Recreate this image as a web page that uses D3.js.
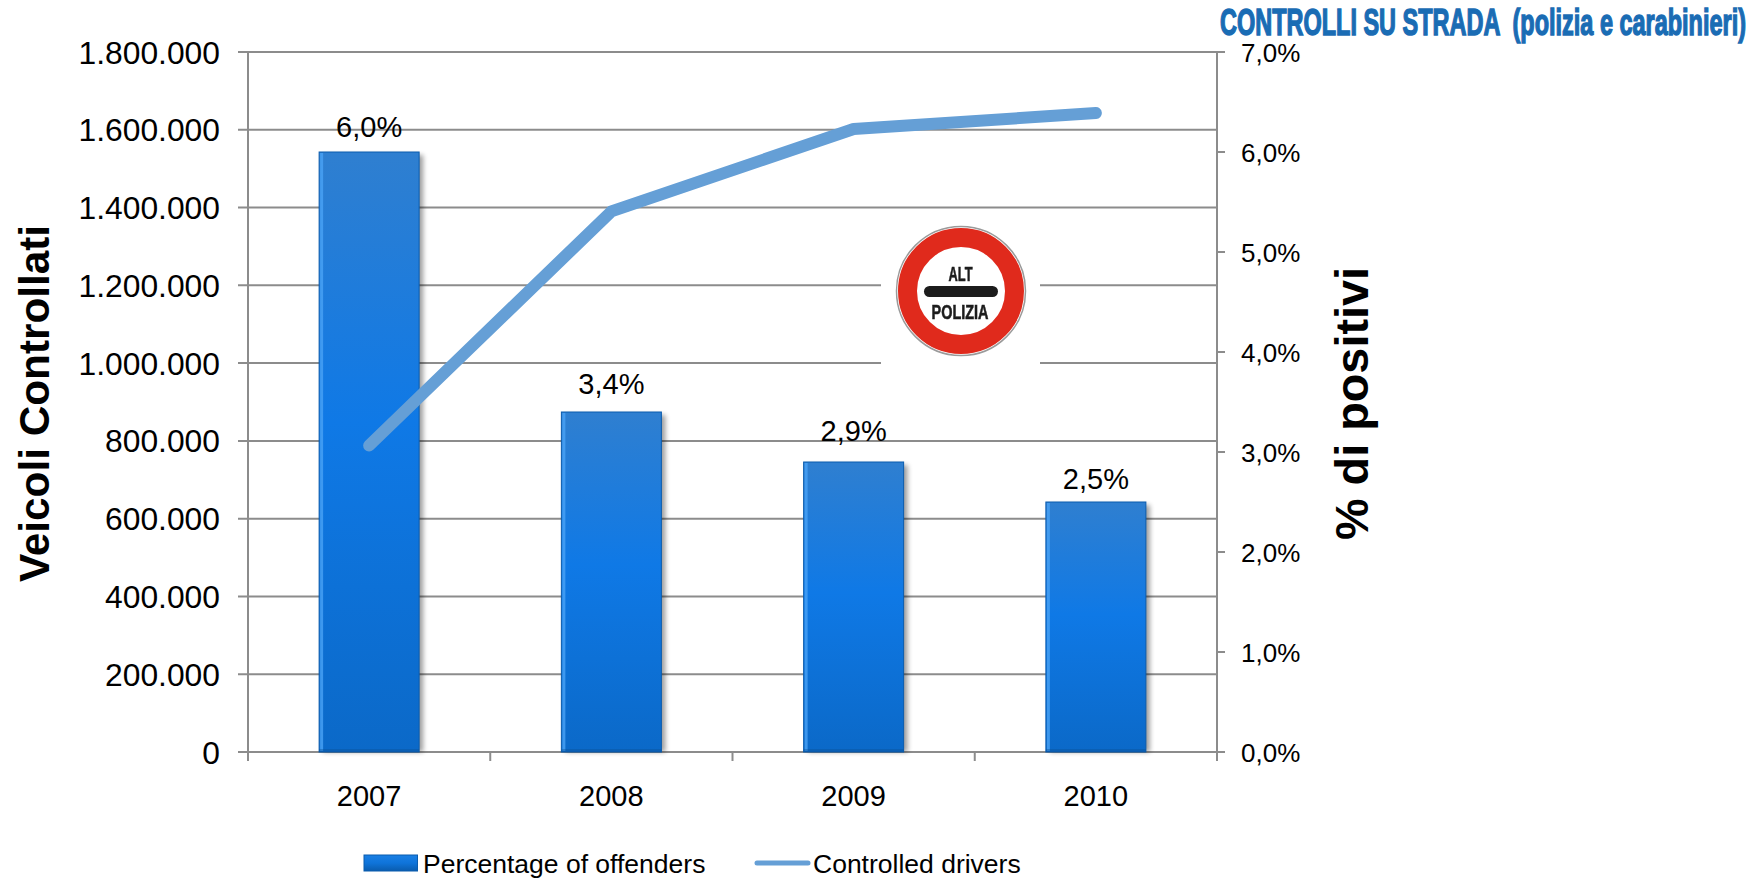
<!DOCTYPE html>
<html>
<head>
<meta charset="utf-8">
<script src="https://cdn.jsdelivr.net/npm/d3@7"></script>
<style>
  html, body { margin: 0; padding: 0; background: #fff; }
  svg { display: block; }
  text { font-family: "Liberation Sans", Arial, sans-serif; fill: #000; }
</style>
</head>
<body>
<svg id="chart" width="1760" height="879"></svg>
<script>
// Roadside checks in Italy: drivers checked (line) and share of offenders (bars)
const years = ["2007", "2008", "2009", "2010"];
const offenderPct = [6.0, 3.4, 2.9, 2.5];
const controlledDrivers = [788000, 1390000, 1602000, 1643000];
const leftTicks = [0, 200000, 400000, 600000, 800000, 1000000, 1200000, 1400000, 1600000, 1800000];
const rightTicks = [0, 1, 2, 3, 4, 5, 6, 7];

const plot = { left: 248, right: 1217, top: 52, bottom: 752 };
const axisGrey = "#8c8c8c";
const lineBlue = "#659fd6";

const svg = d3.select("#chart");
const defs = svg.append("defs");

const barFill = defs.append("linearGradient").attr("id", "barFill")
  .attr("x1", 0).attr("y1", 0).attr("x2", 0).attr("y2", 1);
barFill.append("stop").attr("offset", "0%").attr("stop-color", "#2f7fd0");
barFill.append("stop").attr("offset", "45%").attr("stop-color", "#0f79e6");
barFill.append("stop").attr("offset", "100%").attr("stop-color", "#0b69c8");

const legendFill = defs.append("linearGradient").attr("id", "legendFill")
  .attr("x1", 0).attr("y1", 0).attr("x2", 0).attr("y2", 1);
legendFill.append("stop").attr("offset", "0%").attr("stop-color", "#1a80e4");
legendFill.append("stop").attr("offset", "50%").attr("stop-color", "#0f74da");
legendFill.append("stop").attr("offset", "100%").attr("stop-color", "#0a5cae");

defs.append("filter").attr("id", "barShadow")
  .attr("x", "-20%").attr("y", "-5%").attr("width", "140%").attr("height", "110%")
  .append("feGaussianBlur").attr("stdDeviation", 2.5);
defs.append("filter").attr("id", "soft")
  .append("feGaussianBlur").attr("stdDeviation", 0.6);

const x = d3.scaleBand().domain(years).range([plot.left, plot.right]);
const yLeft = d3.scaleLinear().domain([0, 1800000]).range([plot.bottom, plot.top]);
const yRight = d3.scaleLinear().domain([0, 7]).range([plot.bottom, plot.top]);
const barWidth = 100;
const barX = d => x(d) + x.bandwidth() / 2 - barWidth / 2;
const dotted = d3.format(",d");
const thousands = v => dotted(v).replace(/,/g, ".");
const pct = v => v.toFixed(1).replace(".", ",") + "%";

// Horizontal gridlines, with the plot's top edge at the axis maximum
svg.append("g").selectAll("line").data(leftTicks).join("line")
  .attr("x1", plot.left - 10).attr("x2", plot.right)
  .attr("y1", d => yLeft(d)).attr("y2", d => yLeft(d))
  .attr("stroke", axisGrey).attr("stroke-width", 2);

// Left axis
svg.append("line").attr("x1", plot.left).attr("x2", plot.left)
  .attr("y1", plot.top).attr("y2", plot.bottom).attr("stroke", axisGrey).attr("stroke-width", 2);
svg.append("g").selectAll("text").data(leftTicks).join("text")
  .attr("x", 220).attr("y", d => yLeft(d) + 11.5)
  .attr("text-anchor", "end").attr("font-size", 31.8)
  .text(d => d === 0 ? "0" : thousands(d));

// Right axis: ticks sit on the percentage scale
svg.append("line").attr("x1", plot.right).attr("x2", plot.right)
  .attr("y1", plot.top).attr("y2", plot.bottom + 9).attr("stroke", axisGrey).attr("stroke-width", 2);
svg.append("g").selectAll("line").data(rightTicks).join("line")
  .attr("x1", plot.right).attr("x2", plot.right + 8)
  .attr("y1", d => yRight(d)).attr("y2", d => yRight(d))
  .attr("stroke", axisGrey).attr("stroke-width", 2);
svg.append("g").selectAll("text").data(rightTicks).join("text")
  .attr("x", 1241).attr("y", d => yRight(d) + 10)
  .attr("font-size", 26)
  .text(pct);

// Category ticks and labels
svg.append("g").selectAll("line").data(years.concat(["end"])).join("line")
  .attr("x1", (d, i) => plot.left + i * x.bandwidth())
  .attr("x2", (d, i) => plot.left + i * x.bandwidth())
  .attr("y1", plot.bottom).attr("y2", plot.bottom + 9)
  .attr("stroke", axisGrey).attr("stroke-width", 2);
svg.append("g").selectAll("text").data(years).join("text")
  .attr("x", d => x(d) + x.bandwidth() / 2).attr("y", 806)
  .attr("text-anchor", "middle").attr("font-size", 29)
  .text(d => d);

// Bars: soft shadow, gradient body, bevelled edges
const bars = svg.append("g").selectAll("g").data(years).join("g");
bars.append("rect")
  .attr("x", d => barX(d) + 4)
  .attr("y", (d, i) => yRight(offenderPct[i]) + 3)
  .attr("width", barWidth)
  .attr("height", (d, i) => plot.bottom - yRight(offenderPct[i]) - 3)
  .attr("fill", "#000").attr("opacity", 0.38).attr("filter", "url(#barShadow)");
bars.append("rect")
  .attr("x", barX)
  .attr("y", (d, i) => yRight(offenderPct[i]))
  .attr("width", barWidth)
  .attr("height", (d, i) => plot.bottom - yRight(offenderPct[i]))
  .attr("fill", "url(#barFill)").attr("stroke", "#0a5cae").attr("stroke-width", 1);
bars.append("rect")
  .attr("x", d => barX(d) + 1)
  .attr("y", (d, i) => yRight(offenderPct[i]) + 1)
  .attr("width", 3)
  .attr("height", (d, i) => plot.bottom - yRight(offenderPct[i]) - 2)
  .attr("fill", "#4aa3f5").attr("opacity", 0.8);
bars.append("rect")
  .attr("x", barX)
  .attr("y", plot.bottom - 3)
  .attr("width", barWidth)
  .attr("height", 3)
  .attr("fill", "#0a4f96").attr("opacity", 0.4);

// Value labels above the bars; the lift keeps each one clear of its bar
const labelLift = [15, 18, 21, 13];
svg.append("g").selectAll("text").data(years).join("text")
  .attr("x", d => x(d) + x.bandwidth() / 2)
  .attr("y", (d, i) => yRight(offenderPct[i]) - labelLift[i])
  .attr("text-anchor", "middle").attr("font-size", 29)
  .text((d, i) => pct(offenderPct[i]));

// Controlled drivers line, on the left scale
const linePath = d3.line()
  .x((d, i) => x(years[i]) + x.bandwidth() / 2)
  .y(d => yLeft(d));
svg.append("path").datum(controlledDrivers)
  .attr("d", linePath).attr("fill", "none")
  .attr("stroke", lineBlue).attr("stroke-width", 12)
  .attr("stroke-linecap", "round").attr("stroke-linejoin", "round");

// "ALT POLIZIA" road sign on its white card
const sign = svg.append("g");
sign.append("rect").attr("x", 881).attr("y", 211).attr("width", 159).attr("height", 159).attr("fill", "#fff");
const signArt = sign.append("g").attr("filter", "url(#soft)");
signArt.append("circle").attr("cx", 961).attr("cy", 291).attr("r", 64.5)
  .attr("fill", "#fff").attr("stroke", "#9a9a9a").attr("stroke-width", 1.5);
signArt.append("circle").attr("cx", 961).attr("cy", 291).attr("r", 53.5)
  .attr("fill", "#fff").attr("stroke", "#e02b1f").attr("stroke-width", 19);
signArt.append("rect").attr("x", 924).attr("y", 286).attr("width", 74).attr("height", 11).attr("rx", 5.5)
  .attr("fill", "#1c1c1c");
signArt.append("text").attr("x", 960.5).attr("y", 281).attr("text-anchor", "middle")
  .attr("font-family", "'Liberation Sans Narrow', 'Liberation Sans'").attr("font-weight", "bold")
  .attr("font-size", 21).attr("textLength", 24).attr("lengthAdjust", "spacingAndGlyphs")
  .attr("style", "fill:#1c1c1c;stroke:#1c1c1c;stroke-width:0.6").text("ALT");
signArt.append("text").attr("x", 960).attr("y", 319).attr("text-anchor", "middle")
  .attr("font-family", "'Liberation Sans Narrow', 'Liberation Sans'").attr("font-weight", "bold")
  .attr("font-size", 21).attr("textLength", 57).attr("lengthAdjust", "spacingAndGlyphs")
  .attr("style", "fill:#1c1c1c;stroke:#1c1c1c;stroke-width:0.6").text("POLIZIA");

// Axis titles
svg.append("text")
  .attr("transform", "translate(49,403.5) rotate(-90)")
  .attr("text-anchor", "middle").attr("font-size", 42.3).attr("font-weight", "bold")
  .text("Veicoli Controllati");
svg.append("text")
  .attr("transform", "translate(1368,403.5) rotate(-90)")
  .attr("text-anchor", "middle").attr("font-size", 46.8).attr("font-weight", "bold")
  .text("% di positivi");

// Heading, condensed and heavy: drawn tall by a vertical stretch; spaces stay as typed
svg.append("text")
  .attr("transform", "translate(1220,35) scale(1,1.22)")
  .attr("font-family", "'Liberation Sans Narrow', 'Liberation Sans'").attr("font-weight", "bold")
  .attr("font-size", 30).attr("textLength", 526).attr("lengthAdjust", "spacingAndGlyphs")
  .attr("style", "white-space:pre;fill:#1a6cb4;stroke:#1a6cb4;stroke-width:1.2")
  .text("CONTROLLI SU STRADA  (polizia e carabinieri)");

// Legend
svg.append("rect").attr("x", 364).attr("y", 855).attr("width", 53.5).attr("height", 16)
  .attr("fill", "url(#legendFill)").attr("stroke", "#0a5cae").attr("stroke-width", 1);
svg.append("text").attr("x", 423).attr("y", 872.5).attr("font-size", 26.5).text("Percentage of offenders");
svg.append("line").attr("x1", 757).attr("x2", 808).attr("y1", 863).attr("y2", 863)
  .attr("stroke", lineBlue).attr("stroke-width", 5).attr("stroke-linecap", "round");
svg.append("text").attr("x", 813).attr("y", 872.5).attr("font-size", 26.5).text("Controlled drivers");
</script>
</body>
</html>
